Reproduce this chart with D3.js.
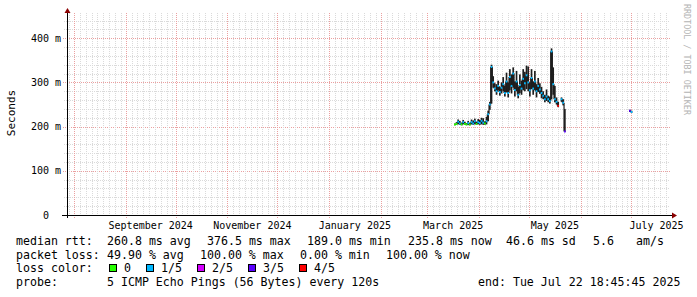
<!DOCTYPE html>
<html>
<head>
<meta charset="utf-8">
<script src="https://cdn.jsdelivr.net/npm/d3@7"></script>
<style>
  body { margin: 0; background: #ffffff; }
  svg { display: block; }
  text { font-family: "DejaVu Sans Mono", monospace; white-space: pre; fill: #000; }
</style>
</head>
<body>
<svg id="chart" width="697" height="297"></svg>
<script>
// ---- data ----
const endTime = new Date(Date.UTC(2025, 6, 22, 18, 45, 45));
const spanDays = 360;

const days = [
  "2025-03-17","2025-03-18","2025-03-19","2025-03-20","2025-03-21","2025-03-22","2025-03-23",
  "2025-03-24","2025-03-25","2025-03-26","2025-03-27","2025-03-28","2025-03-29","2025-03-30",
  "2025-03-31","2025-04-01","2025-04-02","2025-04-03","2025-04-04","2025-04-05","2025-04-06",
  "2025-04-07","2025-04-08","2025-04-09","2025-04-10","2025-04-11","2025-04-12","2025-04-13",
  "2025-04-14","2025-04-15","2025-04-16","2025-04-17","2025-04-18","2025-04-19","2025-04-20",
  "2025-04-21","2025-04-22","2025-04-23","2025-04-24","2025-04-25","2025-04-26","2025-04-27",
  "2025-04-28","2025-04-29","2025-04-30","2025-05-01","2025-05-02","2025-05-03","2025-05-04",
  "2025-05-05","2025-05-06","2025-05-07","2025-05-08","2025-05-09","2025-05-10","2025-05-11",
  "2025-05-12","2025-05-13","2025-05-14","2025-05-15","2025-05-16","2025-05-17","2025-05-18",
  "2025-05-19","2025-05-20","2025-05-21","2025-05-22","2025-06-30","2025-07-01"
];
// median rtt in ms (null = 100% loss)
const medianMs = [
  205,206,211,207,205,210,206,
  205,208,205,210,207,212,206,
  210,208,213,209,207,212,228,
  250,335,300,286,280,292,278,
  288,296,276,302,276,312,292,
  320,283,302,272,294,286,308,
  298,316,300,282,310,286,302,
  280,292,284,276,270,262,268,
  262,258,370,296,262,256,247,
  null,262,254,189,236,233
];
const smokeLoMs = [
  203,204,205,204,203,205,204,
  203,204,203,205,204,205,204,
  205,204,205,204,204,205,212,
  238,252,288,280,272,282,270,
  275,280,268,278,266,282,275,
  288,268,280,264,276,272,282,
  280,285,280,268,285,272,282,
  266,278,274,264,262,255,258,
  255,252,262,272,255,250,244,
  null,256,248,188,233,231
];
const smokeHiMs = [
  207,210,216,213,209,215,211,
  208,213,209,216,214,218,211,
  217,215,220,219,212,222,236,
  256,340,314,298,296,304,290,
  300,312,292,322,300,330,318,
  334,302,326,290,318,304,330,
  324,338,336,300,330,302,326,
  296,310,298,290,280,272,284,
  270,268,377,334,292,266,256,
  null,266,262,240,238,236
];
// lost pings out of 5
const lossCount = [
  0,0,1,1,0,1,0,
  0,1,0,1,1,1,0,
  1,1,1,1,0,1,1,
  1,1,1,1,1,1,1,
  1,1,1,1,1,1,1,
  1,1,1,1,1,1,1,
  1,1,1,1,1,1,1,
  1,1,1,1,1,1,1,
  1,1,1,1,1,1,4,
  0,1,1,3,3,1
];

const yTicks = [0, 100, 200, 300, 400];
const yTickLabels = ["0  ", "100 m", "200 m", "300 m", "400 m"];
const monthLabelMonths = ["2024-09", "2024-11", "2025-01", "2025-03", "2025-05", "2025-07"];
const monthLabels = ["September 2024", "November 2024", "January 2025", "March 2025", "May 2025", "July 2025"];

const rttStats = ["260.8 ms avg", "376.5 ms max", "189.0 ms min", "235.8 ms now", "46.6 ms sd", "5.6", "am/s"];
const lossStats = ["49.90 % avg", "100.00 % max", "0.00 % min", "100.00 % now"];
const lossLabels = ["0", "1/5", "2/5", "3/5", "4/5"];
const lossColors = ["#26ff00", "#00b8ff", "#d400ff", "#5a00ff", "#ff0000"];
const probeText = "5 ICMP Echo Pings (56 Bytes) every 120s";
const endText = "end: Tue Jul 22 18:45:45 2025";

// ---- chart ----
const svg = d3.select("#chart");
const plot = { left: 67, right: 667, top: 13, bottom: 215 };
const gridColor = "#dadada";
const mgridColor = "#eba0a0";

const x = d3.scaleUtc()
    .domain([d3.utcDay.offset(endTime, -spanDays), endTime])
    .range([plot.left, plot.right]);
const y = d3.scaleLinear()
    .domain([0, 0.457])
    .range([plot.bottom, plot.top]);

const grid = svg.append("g").attr("shape-rendering", "crispEdges");

// horizontal grid: minor every 20 ms, major every 100 ms
d3.range(20, 457, 20).forEach(v => {
    const major = v % 100 === 0;
    const yy = Math.round(y(v / 1000)) + 0.5;
    grid.append("line")
        .attr("x1", major ? 63 : 64).attr("x2", 670)
        .attr("y1", yy).attr("y2", yy)
        .attr("stroke", major ? mgridColor : gridColor)
        .attr("stroke-dasharray", "1,1");
});

// vertical grid: major at month starts, minor every half week inside each month
const monthStarts = d3.utcMonth.range(d3.utcMonth.floor(x.domain()[0]), endTime);
monthStarts.forEach(m0 => {
    const m1 = d3.utcMonth.offset(m0, 1);
    for (let k = 1; ; k++) {
        const t = d3.utcHour.offset(m0, k * 84);
        if (t >= m1 || t > endTime) break;
        if (t < x.domain()[0]) continue;
        const xx = Math.round(x(t)) + 0.5;
        grid.append("line")
            .attr("x1", xx).attr("x2", xx)
            .attr("y1", plot.top).attr("y2", 217)
            .attr("stroke", gridColor)
            .attr("stroke-dasharray", "1,1");
    }
    if (m0 < x.domain()[0]) return;
    const xx = Math.round(x(m0)) + 0.5;
    grid.append("line")
        .attr("x1", xx).attr("x2", xx)
        .attr("y1", plot.top).attr("y2", 219)
        .attr("stroke", mgridColor)
        .attr("stroke-dasharray", "1,1");
});

// ---- data marks ----
const parseDay = d3.utcParse("%Y-%m-%d");
const rows = days.map((d, i) => ({
    t: parseDay(d),
    m: medianMs[i], lo: smokeLoMs[i], hi: smokeHiMs[i], loss: lossCount[i]
}));
const valid = rows.filter(r => r.m !== null);
const marks = svg.append("g");

// smoke
valid.forEach(r => {
    const x0 = x(r.t), x1 = x(d3.utcDay.offset(r.t, 1));
    marks.append("rect")
        .attr("x", x0).attr("width", x1 - x0)
        .attr("y", y(r.hi / 1000))
        .attr("height", Math.max(1, y(r.lo / 1000) - y(r.hi / 1000)))
        .attr("fill", "#1e1e1e");
});

// median connectors between consecutive days
rows.forEach((r, i) => {
    const prev = rows[i - 1];
    if (!prev || prev.m === null || r.m === null) return;
    if (d3.utcDay.count(prev.t, r.t) !== 1) return;
    marks.append("line")
        .attr("x1", x(r.t)).attr("x2", x(r.t))
        .attr("y1", y(prev.m / 1000)).attr("y2", y(r.m / 1000))
        .attr("stroke", "#1e1e1e").attr("stroke-width", 1.2);
});

// median coloured by loss
valid.forEach(r => {
    const x0 = x(r.t), x1 = x(d3.utcDay.offset(r.t, 1));
    marks.append("line")
        .attr("x1", x0).attr("x2", x1)
        .attr("y1", y(r.m / 1000)).attr("y2", y(r.m / 1000))
        .attr("stroke", lossColors[r.loss]).attr("stroke-width", 2);
});

// ---- axes ----
const axes = svg.append("g").attr("shape-rendering", "crispEdges");
axes.append("line")
    .attr("x1", 62).attr("x2", 672)
    .attr("y1", plot.bottom + 0.5).attr("y2", plot.bottom + 0.5)
    .attr("stroke", "#000");
axes.append("line")
    .attr("x1", plot.left + 0.5).attr("x2", plot.left + 0.5)
    .attr("y1", 218).attr("y2", 10)
    .attr("stroke", "#000");
svg.append("path")
    .attr("d", "M672,212.5 L677,215.5 L672,218.5 Z")
    .attr("fill", "#8b0000");
svg.append("path")
    .attr("d", "M64.5,13 L67.5,8 L70.5,13 Z")
    .attr("fill", "#8b0000");

// y labels
yTicks.forEach((v, i) => {
    svg.append("text")
        .attr("x", 61).attr("y", y(v / 1000) + 3.7)
        .attr("text-anchor", "end")
        .style("font-size", "10px")
        .text(yTickLabels[i]);
});

// x labels at mid-month
const parseMonth = d3.utcParse("%Y-%m");
monthLabelMonths.forEach((m, i) => {
    const t0 = parseMonth(m);
    const t1 = d3.utcMonth.offset(t0, 1);
    svg.append("text")
        .attr("x", (x(t0) + x(t1)) / 2).attr("y", 228.5)
        .attr("text-anchor", "middle")
        .style("font-size", "10px")
        .text(monthLabels[i]);
});

// y title
svg.append("text")
    .attr("transform", "translate(15,113) rotate(-90)")
    .attr("text-anchor", "middle")
    .style("font-size", "11px")
    .text("Seconds");

// watermark
svg.append("text")
    .attr("transform", "translate(684,4) rotate(90)")
    .style("font-size", "8.4px")
    .style("fill", "#b4b4b4")
    .text("RRDTOOL / TOBI OETIKER");

// ---- legend ----
const legendFont = "11.6px";
const lineY = [245, 258.7, 272.3, 286];
function legendText(xp, yp, s) {
    svg.append("text").attr("x", xp).attr("y", yp)
        .style("font-size", legendFont).text(s);
}
legendText(16, lineY[0], "median rtt:");
[107, 207, 307, 408, 506, 593, 636].forEach((xp, i) => legendText(xp, lineY[0], rttStats[i]));
legendText(16, lineY[1], "packet loss:");
[107, 200, 300, 386].forEach((xp, i) => legendText(xp, lineY[1], lossStats[i]));
legendText(16, lineY[2], "loss color:");
[109, 146, 197, 248, 299].forEach((xp, i) => {
    svg.append("rect")
        .attr("x", xp + 0.5).attr("y", 264.5)
        .attr("width", 7).attr("height", 7)
        .attr("fill", lossColors[i])
        .attr("stroke", "#000").attr("stroke-width", 1)
        .attr("shape-rendering", "crispEdges");
    legendText(xp + 15, lineY[2], lossLabels[i]);
});
legendText(16, lineY[3], "probe:");
legendText(107, lineY[3], probeText);
legendText(478, lineY[3], endText);
</script>
</body>
</html>
